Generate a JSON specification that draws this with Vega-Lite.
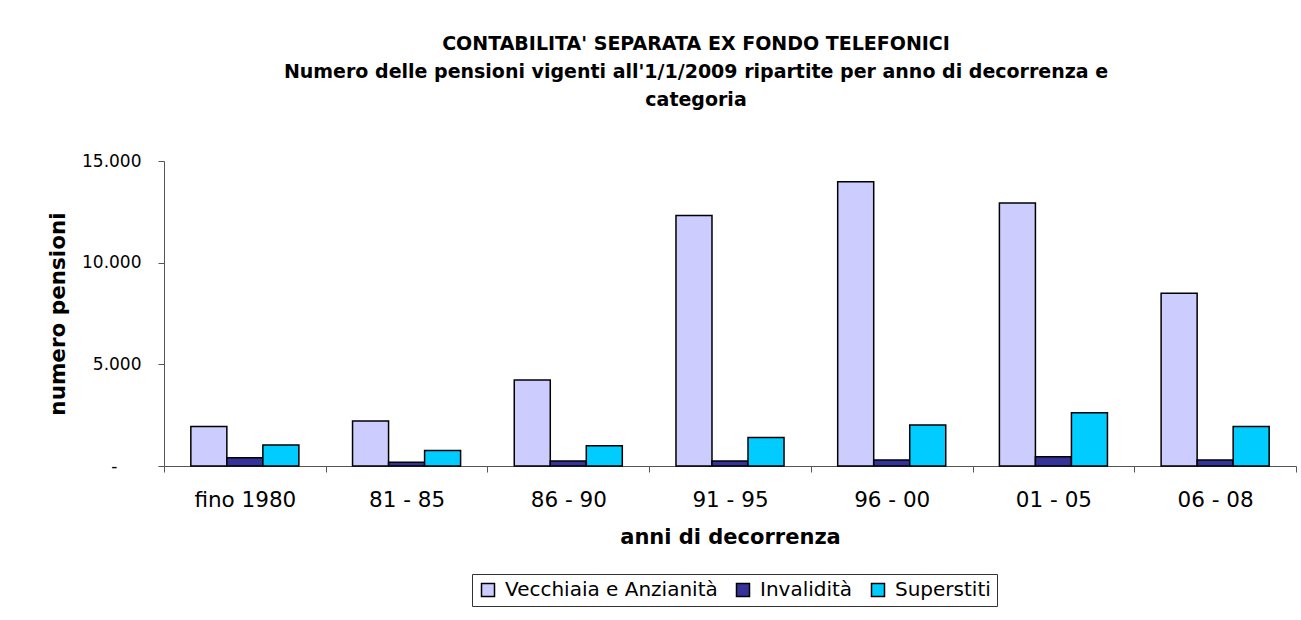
{
  "$schema": "https://vega.github.io/schema/vega-lite/v6.json",
  "width": 1132,
  "height": 305,
  "autosize": {"type": "none"},
  "padding": {"left": 164, "top": 161, "right": 5, "bottom": 154},
  "background": "white",
  "title": {
    "text": ["CONTABILITA' SEPARATA EX FONDO TELEFONICI", "Numero delle pensioni vigenti all'1/1/2009  ripartite per anno di decorrenza e", "categoria"],
    "font": "DejaVu Sans",
    "fontSize": 19,
    "fontWeight": "bold",
    "lineHeight": 28,
    "anchor": "middle",
    "frame": "group",
    "dx": -34,
    "offset": 42,
    "color": "black"
  },
  "data": {
    "values": [
      {"periodo": "fino 1980", "categoria": "Vecchiaia e Anzianità", "numero": 1940},
      {"periodo": "fino 1980", "categoria": "Invalidità", "numero": 410},
      {"periodo": "fino 1980", "categoria": "Superstiti", "numero": 1030},
      {"periodo": "81 - 85", "categoria": "Vecchiaia e Anzianità", "numero": 2210},
      {"periodo": "81 - 85", "categoria": "Invalidità", "numero": 180},
      {"periodo": "81 - 85", "categoria": "Superstiti", "numero": 760},
      {"periodo": "86 - 90", "categoria": "Vecchiaia e Anzianità", "numero": 4230},
      {"periodo": "86 - 90", "categoria": "Invalidità", "numero": 250},
      {"periodo": "86 - 90", "categoria": "Superstiti", "numero": 1000},
      {"periodo": "91 - 95", "categoria": "Vecchiaia e Anzianità", "numero": 12320},
      {"periodo": "91 - 95", "categoria": "Invalidità", "numero": 250},
      {"periodo": "91 - 95", "categoria": "Superstiti", "numero": 1400},
      {"periodo": "96 - 00", "categoria": "Vecchiaia e Anzianità", "numero": 13980},
      {"periodo": "96 - 00", "categoria": "Invalidità", "numero": 300},
      {"periodo": "96 - 00", "categoria": "Superstiti", "numero": 2020},
      {"periodo": "01 - 05", "categoria": "Vecchiaia e Anzianità", "numero": 12940},
      {"periodo": "01 - 05", "categoria": "Invalidità", "numero": 460},
      {"periodo": "01 - 05", "categoria": "Superstiti", "numero": 2620},
      {"periodo": "06 - 08", "categoria": "Vecchiaia e Anzianità", "numero": 8500},
      {"periodo": "06 - 08", "categoria": "Invalidità", "numero": 300},
      {"periodo": "06 - 08", "categoria": "Superstiti", "numero": 1940}
    ]
  },
  "mark": {"type": "bar", "stroke": "black", "strokeWidth": 1.5},
  "encoding": {
    "x": {
      "field": "periodo",
      "type": "nominal",
      "sort": null,
      "scale": {"paddingInner": 0, "paddingOuter": 0},
      "axis": {
        "title": "anni di decorrenza",
        "labelAngle": 0,
        "tickBand": "extent",
        "tickSize": 6,
        "tickColor": "#555",
        "domainColor": "#555",
        "labelFontSize": 21.5,
        "labelPadding": 17,
        "labelColor": "black",
        "titleFontSize": 21,
        "titleFontWeight": "bold",
        "titleColor": "black",
        "titlePadding": 16
      }
    },
    "xOffset": {
      "field": "categoria",
      "type": "nominal",
      "sort": ["Vecchiaia e Anzianità", "Invalidità", "Superstiti"],
      "scale": {"paddingInner": 0, "paddingOuter": 0.745}
    },
    "y": {
      "field": "numero",
      "type": "quantitative",
      "scale": {"domain": [0, 15000]},
      "axis": {
        "title": "numero pensioni",
        "values": [0, 5000, 10000, 15000],
        "labelExpr": "datum.value == 0 ? '-' : replace(format(datum.value, ','), ',', '.')",
        "grid": false,
        "tickSize": 6,
        "tickColor": "#555",
        "domainColor": "#555",
        "labelFontSize": 17,
        "labelPadding": {"condition": {"test": "datum.value == 0", "value": 41}, "value": 17},
        "labelColor": "black",
        "titleFontSize": 21.5,
        "titleFontWeight": "bold",
        "titleColor": "black",
        "titlePadding": 12
      }
    },
    "color": {
      "field": "categoria",
      "type": "nominal",
      "sort": ["Vecchiaia e Anzianità", "Invalidità", "Superstiti"],
      "scale": {"domain": ["Vecchiaia e Anzianità", "Invalidità", "Superstiti"], "range": ["#CCCCFF", "#333399", "#00CCFF"]},
      "legend": {
        "title": null,
        "orient": "none",
        "legendX": 308,
        "legendY": 413,
        "direction": "horizontal",
        "strokeColor": "#333",
        "fillColor": "white",
        "padding": 6,
        "labelFontSize": 20,
        "labelLimit": 400,
        "labelColor": "black",
        "labelOffset": 7,
        "columnPadding": 15,
        "symbolType": "square",
        "symbolSize": 169,
        "symbolStrokeColor": "black",
        "symbolStrokeWidth": 1.5,
        "symbolOpacity": 1
      }
    }
  },
  "config": {
    "view": {"stroke": null},
    "font": "DejaVu Sans"
  }
}
